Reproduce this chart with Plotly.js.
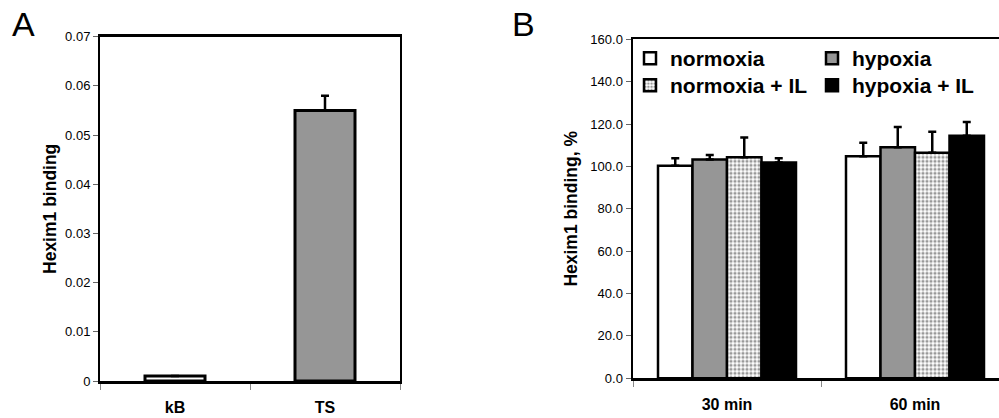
<!DOCTYPE html>
<html>
<head>
<meta charset="utf-8">
<script src="https://cdn.plot.ly/plotly-3.0.1.min.js"></script>
<style>html,body{margin:0;padding:0;background:#fff;}#chart{width:999px;height:418px;}</style>
</head>
<body>
<div id="chart"></div>
<script>
// Panel A data
const catsA = ['kB', 'TS'];
const valsA = [0.001, 0.055];
const errA = [0, 0.003];
const ticksA = [0, 0.01, 0.02, 0.03, 0.04, 0.05, 0.06, 0.07];

// Panel B data
const catsB = ['30 min', '60 min'];
const normoxia = [100.3, 104.8];
const normoxiaErr = [3.5, 6.4];
const hypoxia = [103.3, 109.0];
const hypoxiaErr = [2.1, 9.6];
const normoxiaIL = [104.3, 106.5];
const normoxiaILErr = [9.4, 9.9];
const hypoxiaIL = [101.9, 114.5];
const hypoxiaILErr = [1.9, 6.5];
const ticksB = [0, 20, 40, 60, 80, 100, 120, 140, 160];

const FONT = 'Liberation Sans, Arial, sans-serif';
const W = 999, H = 418;
const px = v => v / W;
const py = v => (H - v) / H;

function errObj(arr) {
  return {type: 'data', symmetric: false, array: arr, arrayminus: arr.map(() => 0),
          color: '#000', thickness: 2.5, width: 4};
}

const traces = [
  {type: 'bar', x: catsA, y: valsA, xaxis: 'x', yaxis: 'y', showlegend: false,
   width: 0.4,
   marker: {color: ['#ffffff', '#969696'], line: {color: '#000', width: 3}},
   error_y: errObj(errA)},
  {type: 'bar', name: 'normoxia', x: catsB, y: normoxia, xaxis: 'x2', yaxis: 'y2', legend: 'legend',
   marker: {color: '#ffffff', line: {color: '#000', width: 2.5}}, error_y: errObj(normoxiaErr)},
  {type: 'bar', name: 'hypoxia', x: catsB, y: hypoxia, xaxis: 'x2', yaxis: 'y2', legend: 'legend2',
   marker: {color: '#969696', line: {color: '#000', width: 2.5}}, error_y: errObj(hypoxiaErr)},
  {type: 'bar', name: 'normoxia + IL', x: catsB, y: normoxiaIL, xaxis: 'x2', yaxis: 'y2', legend: 'legend3',
   marker: {color: '#ffffff', line: {color: '#000', width: 2.5},
            pattern: {shape: '.', fgcolor: '#999', bgcolor: '#ffffff', size: 4, solidity: 0.5}},
   error_y: errObj(normoxiaILErr)},
  {type: 'bar', name: 'hypoxia + IL', x: catsB, y: hypoxiaIL, xaxis: 'x2', yaxis: 'y2', legend: 'legend4',
   marker: {color: '#000000', line: {color: '#000', width: 2.5}}, error_y: errObj(hypoxiaILErr)}
];

const tickFont = {family: FONT, size: 13, color: '#000'};
const catFont = {family: FONT, size: 16, color: '#000', weight: 'bold'};
const legFont = {family: FONT, size: 21, color: '#000', weight: 'bold'};
const titleFont = {family: FONT, size: 17.5, color: '#000', weight: 'bold'};

function leg(xp, yp) {
  return {x: px(xp), xanchor: 'left', y: py(yp), yanchor: 'top', font: legFont,
          bgcolor: 'rgba(0,0,0,0)', itemclick: false};
}

const layout = {
  width: W, height: H,
  margin: {l: 0, r: 0, t: 0, b: 0},
  paper_bgcolor: '#fff', plot_bgcolor: '#fff',
  barmode: 'group', bargap: 0.266, bargroupgap: 0,
  font: {family: FONT, color: '#000'},
  xaxis: {domain: [px(100), px(400)], anchor: 'y', type: 'category', range: [-0.5, 1.5],
          showline: true, linewidth: 2.5, linecolor: '#000', mirror: true,
          ticks: 'outside', tickson: 'boundaries', ticklen: 6, tickwidth: 1, tickcolor: '#888',
          tickfont: catFont, ticklabelstandoff: 10, showgrid: false, zeroline: false},
  yaxis: {domain: [py(381), py(36.7)], anchor: 'x', range: [0, 0.07], tickvals: ticksA,
          ticktext: ticksA.map(v => v === 0 ? '0' : v.toFixed(2)),
          showline: true, linewidth: 2, linecolor: '#000', mirror: true,
          ticks: 'outside', ticklen: 5, tickwidth: 1, tickcolor: '#666',
          tickfont: tickFont, showgrid: false, zeroline: false,
          title: {text: 'Hexim1 binding', font: titleFont, standoff: 4}},
  xaxis2: {domain: [px(633), 1], anchor: 'y2', type: 'category', range: [-0.5, -0.5 + (W - 633) / 188],
           showline: true, linewidth: 2.5, linecolor: '#000', mirror: true,
           ticks: 'outside', tickson: 'boundaries', ticklen: 6, tickwidth: 1, tickcolor: '#888',
           tickfont: catFont, ticklabelstandoff: 10, showgrid: false, zeroline: false},
  yaxis2: {domain: [py(378.3), py(39.3)], anchor: 'x2', range: [0, 160], tickvals: ticksB,
           ticktext: ticksB.map(v => v.toFixed(1)),
           showline: true, linewidth: 2.5, linecolor: '#000', mirror: false,
           ticks: 'outside', ticklen: 5, tickwidth: 1, tickcolor: '#666',
           tickfont: tickFont, showgrid: false, zeroline: false,
           title: {text: 'Hexim1 binding, %', font: titleFont, standoff: 8}},
  legend: leg(630, 38),
  legend2: leg(812, 38),
  legend3: leg(630, 65),
  legend4: leg(812, 65),
  annotations: [
    {text: 'A', xref: 'paper', yref: 'paper', x: px(10), y: py(3), xanchor: 'left', yanchor: 'top',
     showarrow: false, font: {family: FONT, size: 34, color: '#000'}},
    {text: 'B', xref: 'paper', yref: 'paper', x: px(510), y: py(3), xanchor: 'left', yanchor: 'top',
     showarrow: false, font: {family: FONT, size: 34, color: '#000'}}
  ]
};

Plotly.newPlot('chart', traces, layout, {displayModeBar: false, staticPlot: true});
</script>
</body>
</html>
